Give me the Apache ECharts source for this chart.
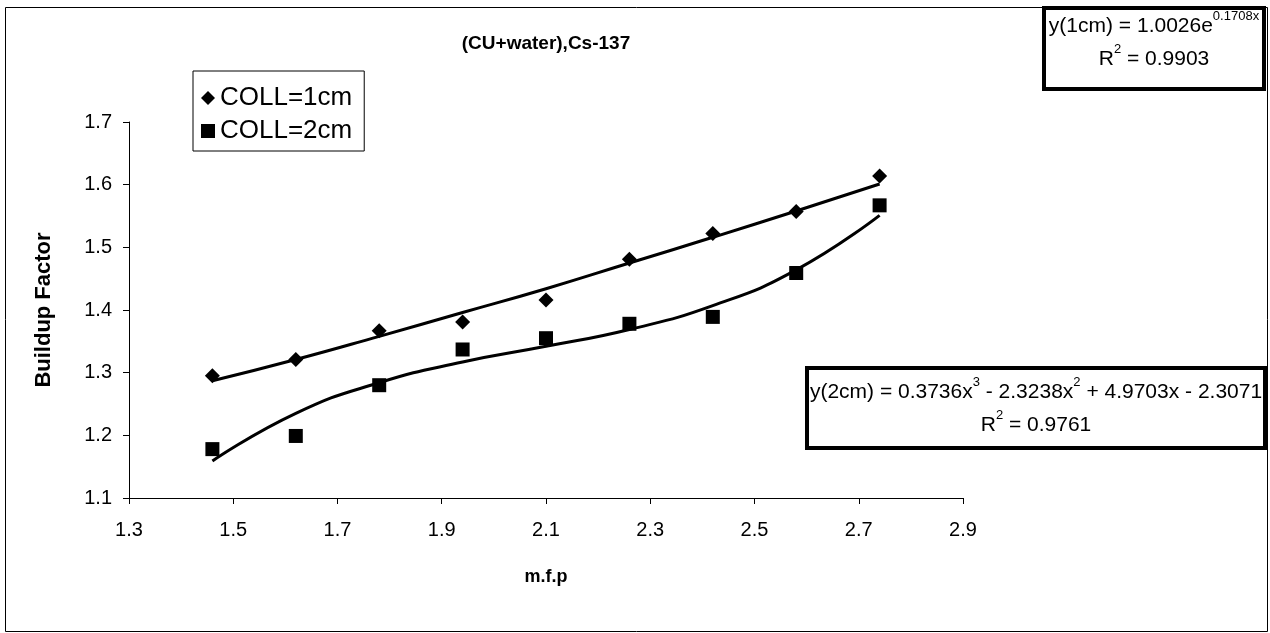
<!DOCTYPE html>
<html lang="en">
<head>
  <meta charset="UTF-8">
  <title>(CU+water),Cs-137</title>
  <script src="https://cdn.jsdelivr.net/npm/echarts@6/dist/echarts.min.js"></script>
  <style>
    * { margin: 0; padding: 0; }
    html, body { width: 100%; height: 100%; background: #fff; }
    #chart { width: 1270px; height: 633px; }
  </style>
</head>
<body>
<div id="chart"></div>
<script>
  // measured points (mean free path vs buildup factor)
  var mfp = [1.46, 1.62, 1.78, 1.94, 2.10, 2.26, 2.42, 2.58, 2.74];
  var coll1 = [1.295, 1.321, 1.367, 1.381, 1.416, 1.481, 1.522, 1.557, 1.614];
  var coll2 = [1.178, 1.199, 1.280, 1.337, 1.355, 1.378, 1.389, 1.459, 1.567];
  // trend lines at each x
  var trend1 = [1.287, 1.321, 1.358, 1.396, 1.434, 1.475, 1.516, 1.558, 1.601];
  var trend2 = [1.159, 1.235, 1.284, 1.317, 1.342, 1.369, 1.407, 1.464, 1.551];
  var legendNames = ['COLL=1cm', 'COLL=2cm'];

  var FONT = 'Liberation Sans';

  function pairs(ys) {
    return mfp.map(function (x, i) { return [x, ys[i]]; });
  }

  var eqRich = {
    t: { fontFamily: FONT, fontWeight: 'normal', fontSize: 21, color: '#000', lineHeight: 33 },
    s: { fontFamily: FONT, fontWeight: 'normal', fontSize: 13, color: '#000', lineHeight: 22, verticalAlign: 'top' }
  };

  var myChart = echarts.init(document.getElementById('chart'));
  var option = {
    backgroundColor: '#fff',
    animation: false,
    textStyle: { fontFamily: FONT, color: '#000' },
    title: [
      {
        text: '(CU+water),Cs-137',
        left: 546, top: 34, textAlign: 'center', padding: 0,
        textStyle: { fontFamily: FONT, fontWeight: 'bold', fontSize: 19, color: '#000' }
      },
      {
        text: '{t|y(1cm) = 1.0026e}{s|0.1708x}\n{t|R}{s|2}{t| = 0.9903}',
        left: 1154, top: 10, textAlign: 'center', padding: 0,
        textStyle: { fontWeight: 'normal', rich: eqRich }
      },
      {
        text: '{t|y(2cm) = 0.3736x}{s|3}{t| - 2.3238x}{s|2}{t| + 4.9703x - 2.3071}\n{t|R}{s|2}{t| = 0.9761}',
        left: 1036, top: 376, textAlign: 'center', padding: 0,
        textStyle: { fontWeight: 'normal', rich: eqRich }
      }
    ],
    graphic: [
      {
        type: 'rect', z: -10, silent: true,
        shape: { x: 5.5, y: 7.5, width: 1262, height: 624 },
        style: { fill: 'none', stroke: '#000', lineWidth: 1 }
      },
      {
        type: 'rect', z: 0, silent: true,
        shape: { x: 1044, y: 8, width: 220, height: 81 },
        style: { fill: '#fff', stroke: '#000', lineWidth: 4 }
      },
      {
        type: 'rect', z: 0, silent: true,
        shape: { x: 807, y: 368, width: 458, height: 80 },
        style: { fill: '#fff', stroke: '#000', lineWidth: 4 }
      }
    ],
    legend: {
      orient: 'vertical',
      left: 193, top: 71,
      padding: [14, 12, 7, 8],
      itemGap: 7,
      itemWidth: 14, itemHeight: 14,
      borderColor: '#000', borderWidth: 1,
      backgroundColor: '#fff',
      textStyle: { fontFamily: FONT, fontSize: 26, color: '#000' },
      data: [
        { name: legendNames[0], icon: 'diamond' },
        { name: legendNames[1], icon: 'rect' }
      ]
    },
    grid: { left: 129, top: 122, width: 834, height: 376, containLabel: false },
    xAxis: {
      type: 'value',
      min: 1.3, max: 2.9, interval: 0.2,
      name: 'm.f.p', nameLocation: 'middle', nameGap: 70,
      nameTextStyle: { fontFamily: FONT, fontWeight: 'bold', fontSize: 18, color: '#000' },
      axisLine: { lineStyle: { color: '#000', width: 1 } },
      axisTick: { show: true, length: 6, lineStyle: { color: '#000' } },
      axisLabel: {
        margin: 22, fontFamily: FONT, fontSize: 20, color: '#000',
        formatter: function (v) { return v.toFixed(1); }
      },
      splitLine: { show: false }
    },
    yAxis: {
      type: 'value',
      min: 1.1, max: 1.7, interval: 0.1,
      name: 'Buildup Factor', nameLocation: 'middle', nameGap: 74, nameRotate: 90,
      nameTextStyle: { fontFamily: FONT, fontWeight: 'bold', fontSize: 22, color: '#000' },
      axisLine: { show: true, lineStyle: { color: '#000', width: 1 } },
      axisTick: { show: true, length: 6, lineStyle: { color: '#000' } },
      axisLabel: {
        margin: 17, fontFamily: FONT, fontSize: 20, color: '#000',
        formatter: function (v) { return v.toFixed(1); }
      },
      splitLine: { show: false }
    },
    series: [
      {
        name: 'trend1cm', type: 'line', smooth: true, showSymbol: false,
        lineStyle: { color: '#000', width: 3 }, z: 2,
        data: pairs(trend1)
      },
      {
        name: 'trend2cm', type: 'line', smooth: true, showSymbol: false,
        lineStyle: { color: '#000', width: 3 }, z: 2,
        data: pairs(trend2)
      },
      {
        name: legendNames[0], type: 'scatter', symbol: 'diamond', symbolSize: 15,
        itemStyle: { color: '#000', opacity: 1 }, z: 3,
        data: pairs(coll1)
      },
      {
        name: legendNames[1], type: 'scatter', symbol: 'rect', symbolSize: 14,
        itemStyle: { color: '#000', opacity: 1 }, z: 3,
        data: pairs(coll2)
      }
    ]
  };
  myChart.setOption(option);
</script>
</body>
</html>
